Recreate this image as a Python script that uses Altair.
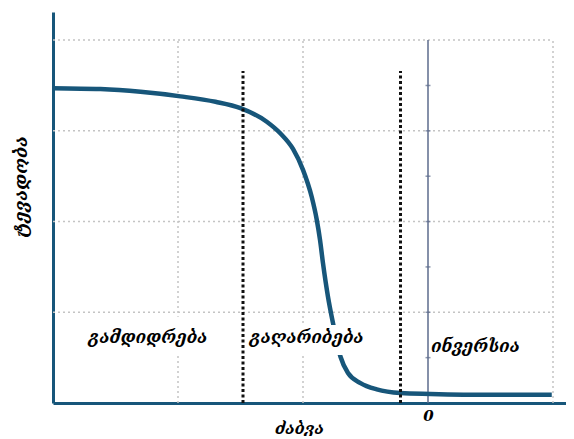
import altair as alt
import pandas as pd

# curve (voltage vs capacitance)
curve_x = [-3.0, -2.62, -2.30, -1.98, -1.70, -1.50, -1.29, -1.18, -1.08, -1.00, -0.93,
           -0.89, -0.864, -0.84, -0.80, -0.76, -0.70, -0.64, -0.54, -0.41, -0.22, 0.02, 0.5, 0.99]
curve_y = [3.47, 3.46, 3.43, 3.38, 3.32, 3.25, 3.10, 2.97, 2.80, 2.57, 2.27,
           2.02, 1.80, 1.54, 1.17, 0.88, 0.51, 0.33, 0.22, 0.15, 0.11, 0.10, 0.09, 0.09]

grid_h = [1, 2, 3, 4]
grid_v = [-2, -1, 1]
region_bounds = [-1.48, -0.22]
region_top = 3.66
zero_ticks = [0.5, 1, 1.5, 2, 2.5, 3, 3.5]

labels = ["გამდიდრება", "გაღარიბება", "ინვერსია"]
label_x = [-2.24, -0.97, 0.38]
label_y = [0.72, 0.72, 0.62]
box_x1 = [-2.78, -1.32, 0.06]
box_x2 = [-1.70, -0.61, 0.70]
box_y1 = [0.55, 0.53, 0.50]
box_y2 = [0.95, 0.86, 0.80]

XDOM = [-3, 1.104]
YDOM = [0, 4.31]
BLUE = "#17567a"

xs = alt.Scale(domain=XDOM, nice=False, zero=False)
ys = alt.Scale(domain=YDOM, nice=False, zero=False)

df_curve = pd.DataFrame({"x": curve_x, "y": curve_y})
df_gh = pd.DataFrame({"y": grid_h, "x1": [-3] * 4, "x2": [1] * 4})
df_gv = pd.DataFrame({"x": grid_v, "y1": [0] * 3, "y2": [4] * 3})
df_rb = pd.DataFrame({"x": region_bounds, "y1": [0, 0], "y2": [region_top] * 2})
df_zero = pd.DataFrame({"x": [0], "y1": [0], "y2": [4]})
df_zt = pd.DataFrame({"x": [0] * len(zero_ticks), "y": zero_ticks})
df_lab = pd.DataFrame({"label": labels, "x": label_x, "y": label_y,
                       "bx1": box_x1, "bx2": box_x2, "by1": box_y1, "by2": box_y2})

FONT = "DejaVu Serif"

base_axes = alt.Chart(df_curve).mark_line(opacity=0).encode(
    x=alt.X("x:Q", scale=xs, axis=alt.Axis(
        values=[0], labelExpr="'0'", ticks=False, grid=False,
        domainColor=BLUE, domainWidth=3,
        labelFont=FONT, labelFontSize=15, labelFontWeight="bold", labelFontStyle="italic",
        labelColor="black", labelPadding=5,
        title="ძაბვა", titleFont=FONT, titleFontSize=16, titleFontWeight="bold",
        titleFontStyle="italic", titleColor="black",
        titleX=246, titleY=25, titleBaseline="middle", titleAlign="center")),
    y=alt.Y("y:Q", scale=ys, axis=alt.Axis(
        labels=False, ticks=False, grid=False,
        domainColor=BLUE, domainWidth=3,
        title="ტევადობა", titleFont=FONT, titleFontSize=18, titleFontWeight="bold",
        titleFontStyle="italic", titleColor="black", titleAngle=270,
        titleX=-32, titleY=174, titleBaseline="middle", titleAlign="center")),
)

gh = alt.Chart(df_gh).mark_rule(color="#c4c4c4", strokeWidth=1.5, strokeDash=[2, 3]).encode(
    y=alt.Y("y:Q", scale=ys), x=alt.X("x1:Q", scale=xs), x2="x2:Q")
gv = alt.Chart(df_gv).mark_rule(color="#c4c4c4", strokeWidth=1.5, strokeDash=[2, 3]).encode(
    x=alt.X("x:Q", scale=xs), y=alt.Y("y1:Q", scale=ys), y2="y2:Q")

zero = alt.Chart(df_zero).mark_rule(color="#5d6b8c", strokeWidth=1.5).encode(
    x=alt.X("x:Q", scale=xs), y=alt.Y("y1:Q", scale=ys), y2="y2:Q")
zt = alt.Chart(df_zt).mark_tick(color="#5d6b8c", size=5, thickness=1.5, orient="horizontal").encode(
    x=alt.X("x:Q", scale=xs), y=alt.Y("y:Q", scale=ys))

curve = alt.Chart(df_curve).mark_line(color=BLUE, strokeWidth=4.5, interpolate="monotone").encode(
    x=alt.X("x:Q", scale=xs), y=alt.Y("y:Q", scale=ys))

boxes = alt.Chart(df_lab).mark_rect(color="white").encode(
    x=alt.X("bx1:Q", scale=xs), x2="bx2:Q", y=alt.Y("by1:Q", scale=ys), y2="by2:Q")

texts = alt.Chart(df_lab).mark_text(font=FONT, fontSize=17, fontStyle="italic",
                                    fontWeight="bold", color="black").encode(
    x=alt.X("x:Q", scale=xs), y=alt.Y("y:Q", scale=ys), text="label:N")

rb = alt.Chart(df_rb).mark_rule(color="#111111", strokeWidth=3, strokeDash=[3, 2.5]).encode(
    x=alt.X("x:Q", scale=xs), y=alt.Y("y1:Q", scale=ys), y2="y2:Q")

chart = alt.layer(base_axes, gh, gv, zero, zt, curve, boxes, texts, rb).properties(
    width=513, height=391,
    autosize=alt.AutoSizeParams(type="none"),
    padding={"left": 45, "top": 4, "right": 0, "bottom": 33},
).configure_view(stroke=None)

chart.save("out.html", embed_options={"renderer": "svg", "actions": False})
